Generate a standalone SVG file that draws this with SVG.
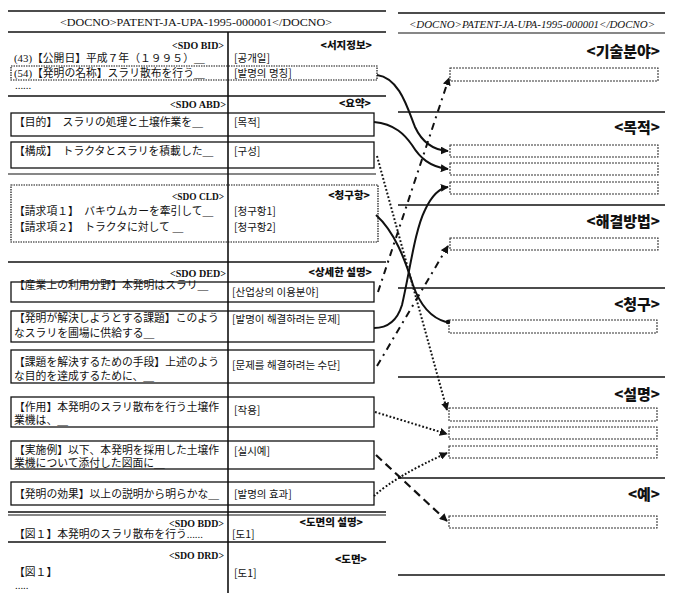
<svg xmlns="http://www.w3.org/2000/svg" width="675" height="593" viewBox="0 0 675 593">
<style>
.bg{fill:#fff}
.sep{stroke:#111;stroke-width:1.6;fill:none}
.thin{stroke:#111;stroke-width:1.2;fill:none}
.box{fill:none;stroke:#111;stroke-width:1.3}
.dbox{fill:none;stroke:#111;stroke-width:1.2;stroke-dasharray:1.5 1}
.rbox{fill:none;stroke:#333;stroke-width:1.1;stroke-dasharray:2 1}
.jp{font-family:'Liberation Serif','Noto Sans CJK JP',serif;font-size:10.8px;fill:#111}
.kr{font-family:'Noto Sans CJK KR',sans-serif;font-size:10.5px;fill:#111}
.krh{font-family:'Noto Sans CJK KR',sans-serif;font-size:10.5px;font-weight:900;fill:#111;text-anchor:end}
.krbig{font-family:'Noto Sans CJK KR',sans-serif;font-size:15px;font-weight:900;fill:#111;text-anchor:end}
.sdo{font-family:'Liberation Serif',serif;font-size:11px;font-weight:700;fill:#111;text-anchor:end}
.doc{font-family:'Liberation Serif',serif;font-size:11px;fill:#111;text-anchor:middle}
.doci{font-family:'Liberation Serif',serif;font-size:10.5px;font-style:italic;fill:#111;text-anchor:middle}
.solid{stroke:#111;stroke-width:2;fill:none}
.dashdot{stroke:#111;stroke-width:2;fill:none;stroke-dasharray:7 5 2 5}
.dot{stroke:#111;stroke-width:2;fill:none;stroke-dasharray:1.8 2}
.dash{stroke:#111;stroke-width:2.2;fill:none;stroke-dasharray:8 5}
</style>
<defs>
<marker id="arr" viewBox="0 0 10 10" refX="9" refY="5" markerWidth="8" markerHeight="8" markerUnits="userSpaceOnUse" orient="auto">
<path d="M0,0 L10,5 L0,10 z" fill="#111"/>
</marker>
</defs>
<rect class="bg" x="0" y="0" width="675" height="593"/>

<g id="left-frame">
<line class="sep" x1="8" y1="11" x2="386" y2="11"/>
<text class="doc" x="196" y="26" textLength="272" lengthAdjust="spacingAndGlyphs">&lt;DOCNO&gt;PATENT-JA-UPA-1995-000001&lt;/DOCNO&gt;</text>
<line class="sep" x1="8" y1="32" x2="386" y2="32"/>
<line class="sep" x1="228" y1="32" x2="228" y2="593"/>
<line class="sep" x1="8" y1="96" x2="386" y2="96"/>
<line class="sep" x1="8" y1="262" x2="386" y2="262"/>
<line class="sep" x1="8" y1="512" x2="386" y2="512"/>
<line class="thin" x1="8" y1="515" x2="386" y2="515"/>
<line class="sep" x1="8" y1="542" x2="386" y2="542"/>
</g>

<g id="sec-bib">
<text class="sdo" x="224" y="49" textLength="52" lengthAdjust="spacingAndGlyphs">&lt;SDO BID&gt;</text>
<text class="krh" x="372" y="49">&lt;서지정보&gt;</text>
<text class="jp" x="14" y="62">(43)【公開日】平成７年（１９９５）＿</text>
<text class="kr" x="234" y="62">[공개일]</text>
<rect class="dbox" x="11" y="66" width="366" height="14"/>
<text class="jp" x="14" y="77">(54)【発明の名称】スラリ散布を行う＿</text>
<text class="kr" x="234" y="77">[발명의 명칭]</text>
<text class="jp" x="15" y="89" font-size="7">......</text>
</g>

<g id="sec-abd">
<text class="sdo" x="226" y="108" textLength="56" lengthAdjust="spacingAndGlyphs">&lt;SDO ABD&gt;</text>
<text class="krh" x="371" y="107">&lt;요약&gt;</text>
<g id="n-purpose">
<rect class="box" x="11" y="113" width="363" height="23"/>
<text class="jp" x="14" y="126">【目的】　スラリの処理と土壌作業を＿</text>
<text class="kr" x="234" y="126">[목적]</text>
</g>
<g id="n-constitution">
<rect class="box" x="11" y="142" width="363" height="26"/>
<text class="jp" x="14" y="155">【構成】　トラクタとスラリを積載した＿</text>
<text class="kr" x="234" y="155">[구성]</text>
</g>
<line class="thin" x1="8" y1="174" x2="376" y2="174"/>
</g>

<g id="n-claims">
<rect class="dbox" x="11" y="185" width="367" height="57"/>
<text class="sdo" x="224" y="200" textLength="52" lengthAdjust="spacingAndGlyphs">&lt;SDO CLD&gt;</text>
<text class="krh" x="370" y="199">&lt;청구항&gt;</text>
<text class="jp" x="14" y="215">【請求項１】　バキウムカーを牽引して＿</text>
<text class="jp" x="14" y="231">【請求項２】　トラクタに対して ＿</text>
<text class="kr" x="234" y="215">[청구항1]</text>
<text class="kr" x="234" y="231">[청구항2]</text>
</g>

<g id="sec-ded">
<text class="sdo" x="226" y="277" textLength="56" lengthAdjust="spacingAndGlyphs">&lt;SDO DED&gt;</text>
<text class="krh" x="372" y="276">&lt;상세한 설명&gt;</text>
<g id="n-field">
<rect class="box" x="11" y="282" width="363" height="20"/>
<text class="jp" x="14" y="289">【産業上の利用分野】本発明はスラリ＿</text>
<text class="kr" x="232" y="296">[산업상의 이용분야]</text>
</g>
<g id="n-problem">
<rect class="box" x="11" y="311" width="363" height="31"/>
<text class="jp" x="14" y="322">【発明が解決しようとする課題】このよう</text>
<text class="jp" x="14" y="337">なスラリを圃場に供給する＿</text>
<text class="kr" x="232" y="323">[발명이 해결하려는 문제]</text>
</g>
<g id="n-means">
<rect class="box" x="11" y="350" width="363" height="33"/>
<text class="jp" x="14" y="366">【課題を解決するための手段】上述のよう</text>
<text class="jp" x="14" y="380">な目的を達成するために、＿</text>
<text class="kr" x="232" y="369">[문제를 해결하려는 수단]</text>
</g>
<g id="n-operation">
<rect class="box" x="11" y="397" width="363" height="30"/>
<text class="jp" x="14" y="411">【作用】本発明のスラリ散布を行う土壌作</text>
<text class="jp" x="14" y="424">業機は、＿</text>
<text class="kr" x="234" y="414">[작용]</text>
</g>
<g id="n-example">
<rect class="box" x="11" y="441" width="363" height="28"/>
<text class="jp" x="14" y="454">【実施例】以下、本発明を採用した土壌作</text>
<text class="jp" x="14" y="467">業機について添付した図面に＿</text>
<text class="kr" x="234" y="455">[실시예]</text>
</g>
<g id="n-effect">
<rect class="box" x="11" y="482" width="363" height="23"/>
<text class="jp" x="14" y="498">【発明の効果】以上の説明から明らかな＿</text>
<text class="kr" x="234" y="498">[발명의 효과]</text>
</g>
</g>

<g id="sec-bdd">
<text class="sdo" x="224" y="527" textLength="55" lengthAdjust="spacingAndGlyphs">&lt;SDO BDD&gt;</text>
<text class="krh" x="363" y="526">&lt;도면의 설명&gt;</text>
<text class="jp" x="14" y="538">【図１】本発明のスラリ散布を行う......</text>
<text class="kr" x="232" y="538">[도1]</text>
</g>
<g id="sec-drd">
<text class="sdo" x="224" y="559" textLength="55" lengthAdjust="spacingAndGlyphs">&lt;SDO DRD&gt;</text>
<text class="krh" x="367" y="563">&lt;도면&gt;</text>
<text class="jp" x="14" y="576">【図１】</text>
<text class="kr" x="234" y="577">[도1]</text>
<text class="jp" x="15" y="589" font-size="7">.....</text>
</g>

<g id="right-frame">
<line class="sep" x1="398" y1="13" x2="665" y2="13"/>
<text class="doci" x="532" y="28" textLength="246" lengthAdjust="spacingAndGlyphs">&lt;DOCNO&gt;PATENT-JA-UPA-1995-000001&lt;/DOCNO&gt;</text>
<line class="thin" x1="398" y1="33" x2="665" y2="33"/>
<line class="sep" x1="398" y1="112" x2="665" y2="112"/>
<line class="sep" x1="398" y1="205" x2="665" y2="205"/>
<line class="sep" x1="398" y1="288" x2="665" y2="288"/>
<line class="sep" x1="398" y1="377" x2="665" y2="377"/>
<line class="sep" x1="398" y1="478" x2="665" y2="478"/>
<line class="sep" x1="398" y1="575" x2="665" y2="575"/>
</g>

<g id="r-tech">
<text class="krbig" x="660" y="57">&lt;기술분야&gt;</text>
<rect id="r-tech-1" class="rbox" x="450" y="68" width="208" height="13"/>
</g>
<g id="r-purpose">
<text class="krbig" x="660" y="133">&lt;목적&gt;</text>
<rect id="r-purpose-1" class="rbox" x="450" y="145" width="208" height="12"/>
<rect id="r-purpose-2" class="rbox" x="450" y="163" width="208" height="12"/>
<rect id="r-purpose-3" class="rbox" x="450" y="182" width="208" height="12"/>
</g>
<g id="r-solution">
<text class="krbig" x="660" y="227">&lt;해결방법&gt;</text>
<rect id="r-solution-1" class="rbox" x="450" y="238" width="208" height="12"/>
</g>
<g id="r-claim">
<text class="krbig" x="660" y="310">&lt;청구&gt;</text>
<rect id="r-claim-1" class="rbox" x="449" y="320" width="208" height="13"/>
</g>
<g id="r-desc">
<text class="krbig" x="660" y="400">&lt;설명&gt;</text>
<rect id="r-desc-1" class="rbox" x="449" y="408" width="208" height="13"/>
<rect id="r-desc-2" class="rbox" x="449" y="427" width="208" height="12"/>
<rect id="r-desc-3" class="rbox" x="449" y="446" width="208" height="12"/>
</g>
<g id="r-example">
<text class="krbig" x="660" y="500">&lt;예&gt;</text>
<rect id="r-example-1" class="rbox" x="449" y="516" width="208" height="12"/>
</g>

<g id="connectors">
<path class="solid" d="M377,75 C400,78 408,110 415,127 C422,142 432,150 448,151" marker-end="url(#arr)"/>
<path class="solid" d="M374,122 C395,124 405,135 412,145 C420,158 430,167 448,169" marker-end="url(#arr)"/>
<path class="solid" d="M374,328 C390,328 398,318 402,305 C410,270 415,230 425,210 C432,195 440,188 448,187" marker-end="url(#arr)"/>
<path class="solid" d="M376,215 C395,232 405,260 413,285 C420,305 432,318 446,322"/>
<circle cx="448" cy="322" r="2.3" fill="#111"/>
<path class="dashdot" d="M378,292 L449,78" marker-end="url(#arr)"/>
<path class="dashdot" d="M377,366 L448,246" marker-end="url(#arr)"/>
<path class="dot" d="M377,156 L447,410" marker-end="url(#arr)"/>
<path class="dot" d="M375,412 L447,434" marker-end="url(#arr)"/>
<path class="dot" d="M374,496 Q396,476 447,453" marker-end="url(#arr)"/>
<path class="dash" d="M376,455 L447,521" marker-end="url(#arr)"/>
</g>
</svg>
